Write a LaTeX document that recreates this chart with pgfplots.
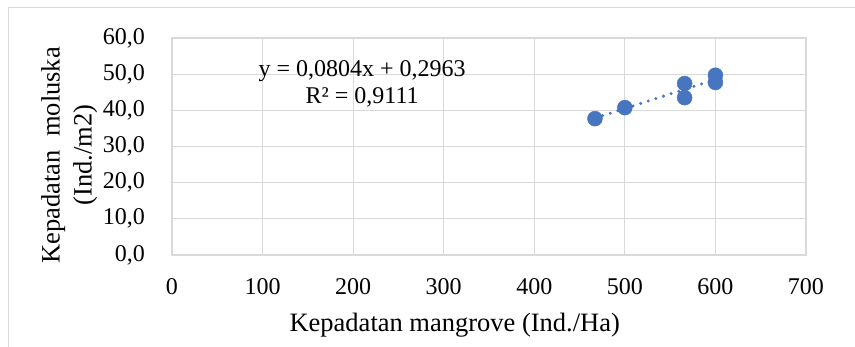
\documentclass[border=0pt]{standalone}
\usepackage{pgfplots}
\pgfplotsset{compat=1.18}
\usepackage{fontspec}
\setmainfont{Liberation Serif}
\definecolor{ptblue}{HTML}{4775C0}
\definecolor{gridgray}{HTML}{D9D9D9}
\begin{document}
\fontsize{24}{27}\selectfont
\begin{tikzpicture}[x=1pt,y=1pt]
\path[use as bounding box] (-172,-92) rectangle (683,255);
\draw[gridgray, line width=1pt] (-163,-92) -- (-163,247) -- (683,247);
\begin{axis}[
  scale only axis, width=634pt, height=217pt,
  xmin=0, xmax=700, ymin=0, ymax=60,
  xtick={0,100,...,700}, ytick={0,10,...,60},
  grid=major,
  grid style={gridgray, line width=1.2pt},
  axis line style={gridgray, line width=1.2pt},
  major tick length=0pt,
  tick style={draw=none},
  /pgf/number format/assume math mode=true,
  ticklabel style={font=\fontsize{24}{27}\selectfont},
  yticklabel style={xshift=-19pt, /pgf/number format/fixed, /pgf/number format/fixed zerofill, /pgf/number format/precision=1, /pgf/number format/use comma, /pgf/number format/1000 sep={}},
  xticklabel style={yshift=-15pt, /pgf/number format/fixed, /pgf/number format/1000 sep={}},
  xlabel={Kepadatan mangrove (Ind./Ha)},
  ylabel={Kepadatan\ \ moluska\\(Ind./m2)},
  xlabel style={at={(axis description cs:0.446,-0.323)}, anchor=center, font=\fontsize{26.5}{30}\selectfont},
  ylabel style={at={(axis description cs:-0.162,0.46)}, anchor=center, rotate=0, align=center, font=\fontsize{26.5}{32}\selectfont},
  clip=false,
]
\addplot[ptblue, line width=3.3pt, line cap=round, dash pattern=on 0pt off 8pt, forget plot] coordinates {(467,37.84) (600,48.54)};
\addplot[only marks, mark=*, mark size=7.5pt, mark options={fill=ptblue, draw=ptblue}] coordinates {
  (467,37.7) (500,40.75) (566,47.4) (566,43.5) (600,49.7) (600,47.7)
};
\node[align=center, font=\fontsize{24}{27}\selectfont] at (axis cs:210,47.4) {y = 0,0804x + 0,2963\\R² = 0,9111};
\end{axis}
\end{tikzpicture}
\end{document}
